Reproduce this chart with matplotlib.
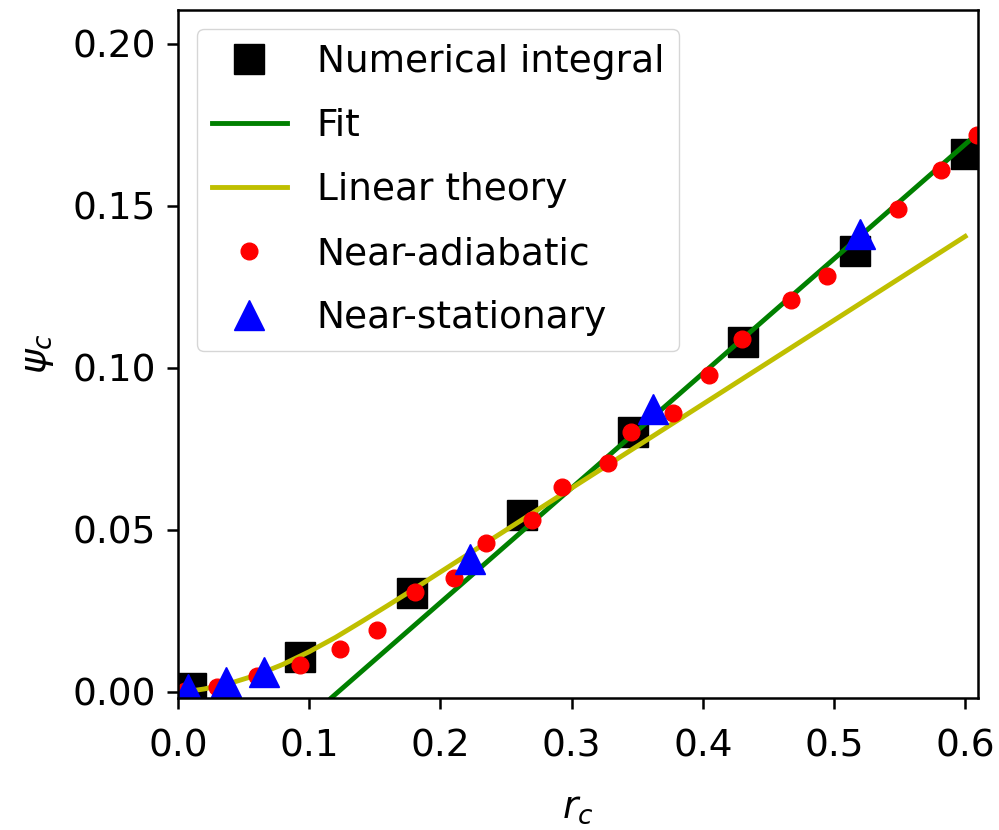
import numpy as np
import matplotlib
matplotlib.use("Agg")
import matplotlib.pyplot as plt

# numerical integral (black squares)
num_x = [0.0099, 0.093, 0.178, 0.262, 0.347, 0.431, 0.516, 0.601]
num_y = [0.0012, 0.0108, 0.0306, 0.0546, 0.0802, 0.108, 0.136, 0.166]

# fit (green line), two end points
fit_x = [0.117, 0.607]
fit_y = [-0.0018, 0.1715]

# linear theory (yellow curve)
lin_x = [0.01, 0.02, 0.04, 0.06, 0.08, 0.1, 0.12, 0.14, 0.16, 0.18, 0.2, 0.3, 0.4, 0.5, 0.6]
lin_y = [0.0003, 0.0009, 0.0027, 0.0052, 0.0085, 0.0124, 0.0168, 0.0217, 0.0267, 0.0318, 0.0370,
         0.0629, 0.0888, 0.1147, 0.1406]

# near-adiabatic (red dots)
adi_x = [0.005, 0.030, 0.060, 0.093, 0.1235, 0.152, 0.181, 0.210, 0.235, 0.270, 0.293, 0.328, 0.345,
         0.377, 0.405, 0.430, 0.467, 0.495, 0.549, 0.5815, 0.609]
adi_y = [0.0004, 0.0015, 0.005, 0.0083, 0.0133, 0.0191, 0.0309, 0.035, 0.046, 0.053, 0.0633, 0.0707,
         0.0802, 0.0861, 0.0978, 0.109, 0.121, 0.1284, 0.149, 0.161, 0.172]

# near-stationary (blue triangles)
sta_x = [0.0076, 0.0366, 0.0655, 0.2226, 0.362, 0.520]
sta_y = [0.001, 0.0029, 0.0062, 0.041, 0.0873, 0.1414]

fs = 27
fig = plt.figure(figsize=(9.99, 8.30), dpi=100)
ax = fig.add_axes([0.1782, 0.159, 0.8008, 0.829])

ax.plot(num_x, num_y, 's', color='k', markersize=21, label='Numerical integral')
ax.plot(fit_x, fit_y, '-', color='g', lw=3.5, label='Fit')
ax.plot(lin_x, lin_y, '-', color='y', lw=3.5, label='Linear theory')
ax.plot(adi_x, adi_y, 'o', color='r', markersize=12, label='Near-adiabatic')
ax.plot(sta_x, sta_y, '^', color='b', markersize=22, label='Near-stationary')

ax.set_xlim(0, 0.6098)
ax.set_ylim(-0.0019, 0.2105)
ax.set_xticks([0.0, 0.1, 0.2, 0.3, 0.4, 0.5, 0.6])
ax.set_xticklabels(['0.0', '0.1', '0.2', '0.3', '0.4', '0.5', '0.6'])
ax.set_yticks([0.0, 0.05, 0.10, 0.15, 0.20])
ax.set_yticklabels(['0.00', '0.05', '0.10', '0.15', '0.20'])
ax.tick_params(labelsize=fs, length=8, width=1.8, pad=8)
ax.tick_params(axis='x', pad=14)
for s in ax.spines.values():
    s.set_linewidth(1.8)

ax.set_xlabel(r'$r_c$', fontsize=fs, labelpad=18)
ax.set_ylabel(r'$\psi_c$', fontsize=fs, labelpad=12)

ax.legend(loc='upper left', fontsize=fs, numpoints=1, borderaxespad=0.5, labelspacing=0.75)

fig.savefig('out.png', dpi=100)
